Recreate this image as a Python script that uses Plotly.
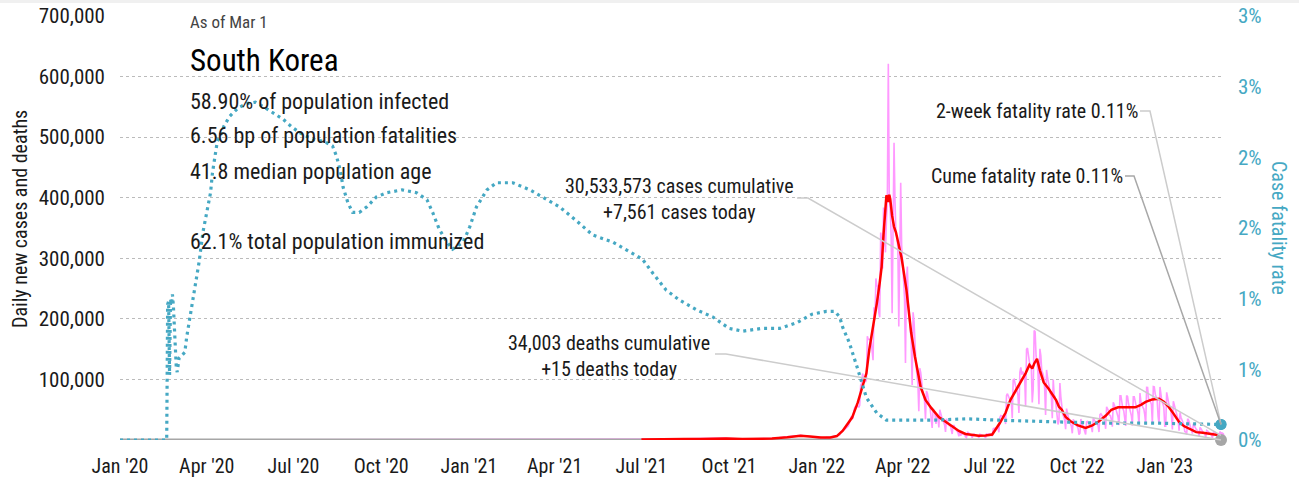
import pandas as pd
import plotly.graph_objects as go

# ---------------- data ----------------
tick_dates = ["2020-01-01", "2020-04-01", "2020-07-01", "2020-10-01",
              "2021-01-01", "2021-04-01", "2021-07-01", "2021-10-01",
              "2022-01-01", "2022-04-01", "2022-07-01", "2022-10-01",
              "2023-01-01"]
tick_text = ["Jan '20", "Apr '20", "Jul '20", "Oct '20",
             "Jan '21", "Apr '21", "Jul '21", "Oct '21",
             "Jan '22", "Apr '22", "Jul '22", "Oct '22",
             "Jan '23"]
y_tickvals = [0, 100000, 200000, 300000, 400000, 500000, 600000, 700000]
y_ticktext = ["", "100,000", "200,000", "300,000", "400,000", "500,000", "600,000", "700,000"]
y2_tickvals = [0, 0.005, 0.01, 0.015, 0.02, 0.025, 0.03]
y2_ticktext = ["0%", "1%", "1%", "2%", "2%", "3%", "3%"]

# cumulative case fatality rate (percent)
cfr_dates = ["2020-01-01", "2020-02-19", "2020-02-20", "2020-02-21", "2020-02-22", "2020-02-23",
             "2020-02-24", "2020-02-25", "2020-02-26", "2020-02-27", "2020-02-28", "2020-02-29",
             "2020-03-01", "2020-03-03", "2020-03-06", "2020-03-09", "2020-03-11", "2020-03-14",
             "2020-03-17", "2020-03-21", "2020-03-24", "2020-03-28", "2020-04-01", "2020-04-05",
             "2020-04-07", "2020-04-10", "2020-04-12", "2020-04-17", "2020-04-19", "2020-04-25",
             "2020-05-04", "2020-05-13", "2020-05-22", "2020-05-30", "2020-06-09", "2020-06-20",
             "2020-06-30", "2020-07-11", "2020-07-21", "2020-08-03", "2020-08-11", "2020-08-15",
             "2020-08-19", "2020-08-22", "2020-08-27", "2020-09-01", "2020-09-08", "2020-09-16",
             "2020-09-26", "2020-10-07", "2020-10-23", "2020-11-07", "2020-11-18", "2020-11-24",
             "2020-12-01", "2020-12-09", "2020-12-15", "2020-12-26", "2021-01-02", "2021-01-09",
             "2021-01-20", "2021-01-30", "2021-02-16", "2021-03-06", "2021-03-19", "2021-04-06",
             "2021-04-24", "2021-05-11", "2021-06-01", "2021-06-19", "2021-07-02", "2021-07-13",
             "2021-07-27", "2021-08-10", "2021-08-28", "2021-09-14", "2021-10-01", "2021-10-15",
             "2021-11-05", "2021-11-23", "2021-12-11", "2021-12-27", "2022-01-11", "2022-01-20",
             "2022-01-25", "2022-01-28", "2022-02-04", "2022-02-13", "2022-02-22", "2022-03-05",
             "2022-03-15", "2022-05-02", "2022-06-07", "2022-07-11", "2022-09-02", "2022-10-24",
             "2022-12-16", "2023-03-01"]
cfr_pct = [0, 0, 0.96, 0.98, 0.46, 1.00,
           0.96, 1.03, 0.95, 0.80, 0.62, 0.52,
           0.48, 0.58, 0.60, 0.62, 0.73, 0.85,
           0.97, 1.11, 1.26, 1.47, 1.61, 1.75,
           1.89, 2.01, 2.11, 2.18, 2.22, 2.29,
           2.35, 2.38, 2.39, 2.36, 2.32, 2.27,
           2.21, 2.16, 2.13, 2.11, 2.08, 2.01,
           1.91, 1.79, 1.68, 1.61, 1.61, 1.65,
           1.72, 1.75, 1.77, 1.75, 1.70, 1.61,
           1.49, 1.40, 1.35, 1.40, 1.51, 1.65,
           1.77, 1.82, 1.82, 1.77, 1.72, 1.65,
           1.55, 1.45, 1.40, 1.33, 1.28, 1.18,
           1.06, 0.99, 0.92, 0.87, 0.79, 0.77,
           0.79, 0.79, 0.83, 0.89, 0.91, 0.91,
           0.87, 0.80, 0.69, 0.50, 0.30, 0.19,
           0.14, 0.14, 0.15, 0.14, 0.13, 0.12,
           0.12, 0.11]

# 7-day average of new cases (thousands) -- drawn from Jul 2021, as in the picture
avg_dates = ["2021-07-01", "2021-07-15", "2021-08-15", "2021-09-01", "2021-09-28",
             "2021-10-15", "2021-11-01", "2021-11-15", "2021-12-01", "2021-12-15", "2021-12-25",
             "2022-01-05", "2022-01-15", "2022-01-22", "2022-01-28", "2022-02-07", "2022-02-13",
             "2022-02-18", "2022-02-22", "2022-02-25", "2022-03-01", "2022-03-05", "2022-03-08",
             "2022-03-10", "2022-03-12", "2022-03-14", "2022-03-15", "2022-03-16", "2022-03-17",
             "2022-03-18", "2022-03-19", "2022-03-21", "2022-03-23", "2022-03-25", "2022-03-28",
             "2022-03-31", "2022-04-05", "2022-04-10", "2022-04-14", "2022-04-17", "2022-04-20",
             "2022-04-25", "2022-05-01", "2022-05-09", "2022-05-16", "2022-05-23", "2022-05-30",
             "2022-06-06", "2022-06-13", "2022-06-20", "2022-06-27", "2022-07-04", "2022-07-12",
             "2022-07-18", "2022-07-23", "2022-08-02", "2022-08-08", "2022-08-12", "2022-08-15",
             "2022-08-17", "2022-08-20", "2022-08-23", "2022-08-27", "2022-09-01", "2022-09-05",
             "2022-09-09", "2022-09-12", "2022-09-15", "2022-09-19", "2022-09-25", "2022-10-02",
             "2022-10-10", "2022-10-17", "2022-10-24", "2022-10-31", "2022-11-06", "2022-11-13",
             "2022-11-20", "2022-11-25", "2022-12-01", "2022-12-07", "2022-12-12", "2022-12-19",
             "2022-12-26", "2022-12-31", "2023-01-05", "2023-01-10", "2023-01-16", "2023-01-21",
             "2023-01-28", "2023-02-03", "2023-02-10", "2023-02-17", "2023-02-24", "2023-03-01"]
avg_k = [0.7, 1.4, 1.75, 1.7, 2.6,
         1.6, 2.0, 2.5, 4.5, 7.0, 5.8,
         4.0, 4.1, 6.5, 15, 37, 62,
         87, 110, 149, 185, 226, 260,
         286, 340, 385, 404, 400, 393,
         405, 398, 370, 352, 343, 320,
         300, 248, 177, 137, 110, 87,
         66, 53, 38, 30, 22, 15,
         10, 8, 7, 7.5, 9, 28,
         45, 66, 94, 110, 124, 118,
         126, 134, 115, 95, 85, 75,
         66, 55, 50, 38, 30, 24,
         20, 24, 31, 40, 50, 54,
         54, 53, 54, 58, 63, 67,
         68, 63, 55, 44, 30, 23,
         18, 13, 12, 10, 8, 7.6]

# daily new cases (thousands)
daily_pre_dates = ["2020-01-01", "2020-02-18", "2020-02-29", "2020-03-03", "2020-03-15", "2020-04-15",
                   "2020-06-15", "2020-08-27", "2020-09-15", "2020-11-15", "2020-12-25", "2021-01-15",
                   "2021-03-15", "2021-05-15", "2021-07-15", "2021-08-15", "2021-09-25", "2021-10-15",
                   "2021-11-15", "2021-12-15", "2021-12-31"]
daily_pre_k = [0, 0.05, 0.9, 0.6, 0.1, 0.03,
               0.04, 0.44, 0.1, 0.2, 1.24, 0.5,
               0.4, 0.6, 1.6, 1.8, 3.3, 1.6,
               2.5, 7.8, 5.0]
daily_2022_01 = [4.4, 3.8, 3.1, 4.0, 4.4, 4.1, 3.7, 3.5, 3.3, 3.0, 4.4, 4.2, 4.2, 4.5, 4.4, 4.2,
                 3.9, 5.8, 5.8, 6.6, 6.8, 7.0, 7.6, 7.5, 8.6, 13.0, 14.5, 16.1, 17.5, 17.0, 18.3]
daily_2022_02 = [20.3, 20.3, 22.9, 27.4, 36.3, 38.7, 35.3, 36.7, 49.6, 54.1, 53.9, 54.9, 56.4, 53.9,
                 57.2, 90.4, 93.1, 109.8, 102.2, 104.8, 95.4, 99.6, 171.4, 165.9, 166.2, 166.2,
                 163.5, 139.6]
daily_2022_03 = [131.7, 219.2, 198.8, 266.8, 254.3, 254.3, 210.7, 202.7, 342.4, 327.5, 282.9, 383.7,
                 350.2, 309.8, 362.3, 400.7, 621.3, 407.0, 381.5, 334.7, 209.2, 354.0, 490.9, 395.6,
                 339.5, 335.6, 318.1, 187.2, 347.5, 424.6, 321.0]
daily_2022_04 = [280.3, 264.2, 234.3, 127.2, 266.1, 286.3, 224.8, 205.3, 185.6, 164.5, 90.9, 210.7,
                 195.4, 148.4, 125.8, 107.9, 93.0, 47.7, 118.5, 111.3, 90.8, 81.0, 75.4, 64.6,
                 34.4, 81.0, 76.8, 63.6, 57.5, 50.5]
daily_2022_05 = [37.7, 20.0, 51.1, 49.0, 42.3, 26.7, 40.0, 37.9, 20.6, 49.9, 43.9, 35.9, 32.4, 29.6,
                 25.4, 13.3, 35.1, 29.6, 26.7, 23.9, 25.1, 19.3, 9.9, 23.9, 23.9, 19.2, 16.6, 14.4,
                 12.5, 6.1, 13.3]
daily_2022_06 = [7.1, 12.5, 9.9, 9.8, 9.0, 5.0, 4.0, 13.4, 12.0, 9.3, 8.4, 7.4, 3.8, 9.4, 9.8, 8.4,
                 7.2, 6.9, 6.0, 3.5, 9.3, 9.3, 8.1, 7.5, 6.7, 6.2, 3.4, 9.9, 9.6, 9.6]
daily_2022_07 = [10.7, 10.7, 10.0, 6.2, 18.1, 19.4, 18.5, 19.3, 20.4, 20.4, 12.7, 37.3, 40.3, 38.9,
                 38.9, 40.3, 40.3, 26.3, 73.6, 76.4, 71.2, 68.6, 68.5, 65.4, 35.9, 99.3, 100.3, 88.4,
                 85.3, 82.0, 73.6]
daily_2022_08 = [44.7, 111.8, 119.9, 107.9, 112.9, 107.9, 105.5, 55.3, 149.9, 151.8, 137.2, 128.7,
                 124.6, 119.6, 62.1, 84.1, 180.8, 178.5, 138.8, 128.7, 110.0, 59.0, 150.5, 139.3,
                 113.4, 110.7, 103.9, 85.3, 41.4, 115.6, 103.9]
daily_2022_09 = [94.9, 81.6, 76.4, 72.6, 35.9, 99.8, 74.1, 71.4, 56.0, 35.0, 25.7, 31.0, 93.9, 71.4,
                 55.1, 41.9, 38.3, 33.0, 17.7, 51.9, 43.5, 34.6, 30.3, 26.9, 23.0, 11.1, 34.1, 30.7,
                 28.5, 25.7]
daily_2022_10 = [22.7, 19.4, 8.9, 11.1, 34.7, 29.8, 24.6, 22.4, 15.5, 9.0, 30.1, 30.6, 28.1, 25.4,
                 24.0, 21.3, 12.9, 35.9, 33.2, 30.1, 28.0, 27.9, 24.0, 13.1, 41.9, 43.4, 40.9, 38.6,
                 35.9, 30.8, 18.5]
daily_2022_11 = [54.7, 51.9, 48.3, 41.1, 40.3, 33.2, 22.0, 62.2, 59.4, 54.2, 49.4, 45.1, 38.0, 24.7,
                 72.9, 72.9, 59.1, 51.8, 48.0, 39.0, 23.1, 73.3, 71.5, 59.8, 53.0, 50.6, 40.0, 23.8,
                 71.5, 71.5]
daily_2022_12 = [60.0, 56.1, 51.6, 43.2, 25.7, 77.6, 62.7, 59.7, 53.7, 51.5, 42.0, 25.6, 86.9, 86.7,
                 68.9, 64.2, 63.2, 58.9, 26.6, 88.2, 87.6, 75.7, 68.2, 66.0, 38.9, 26.5, 87.6, 71.3,
                 63.4, 60.1, 54.6]
daily_2023_01 = [22.7, 22.8, 78.6, 65.2, 61.9, 54.5, 52.6, 40.3, 17.5, 63.9, 57.6, 50.6, 45.0, 42.3,
                 33.7, 15.3, 45.2, 37.6, 33.7, 30.7, 25.2, 14.1, 13.1, 9.2, 35.1, 33.0, 28.2, 22.9,
                 18.9, 10.5, 26.8]
daily_2023_02 = [23.2, 20.2, 17.6, 16.0, 13.0, 6.5, 20.8, 18.7, 15.3, 12.9, 12.1, 10.1, 4.5, 15.7,
                 14.5, 13.1, 11.1, 10.6, 8.3, 3.6, 12.9, 13.6, 12.1, 10.5, 10.2, 7.9, 3.8, 14.2]
daily_2023_03 = [7.561]

# daily deaths
deaths_dates = ["2020-01-01", "2020-02-15", "2020-03-15", "2020-04-15", "2020-05-15", "2020-08-15",
                "2020-09-15", "2020-12-15", "2021-01-15", "2021-03-15", "2021-07-15", "2021-10-15",
                "2021-11-15", "2021-12-15", "2022-01-15", "2022-02-15", "2022-03-20", "2022-04-10",
                "2022-05-15", "2022-06-15", "2022-07-15", "2022-08-25", "2022-09-15", "2022-10-15",
                "2022-11-15", "2022-12-20", "2023-01-15", "2023-02-15", "2023-03-01"]
deaths_vals = [0, 0, 6, 4, 1, 1,
               4, 12, 20, 5, 2, 9,
               30, 60, 30, 40, 290, 230,
               50, 12, 15, 60, 60, 20,
               40, 50, 40, 15, 15]

last_date = "2023-03-01"
cases_today = 7561
deaths_today = 15
cfr_two_week = 0.11
cfr_cume = 0.11

# ---------------- build ----------------
daily_months = [("2022-01-01", daily_2022_01), ("2022-02-01", daily_2022_02),
                ("2022-03-01", daily_2022_03), ("2022-04-01", daily_2022_04),
                ("2022-05-01", daily_2022_05), ("2022-06-01", daily_2022_06),
                ("2022-07-01", daily_2022_07), ("2022-08-01", daily_2022_08),
                ("2022-09-01", daily_2022_09), ("2022-10-01", daily_2022_10),
                ("2022-11-01", daily_2022_11), ("2022-12-01", daily_2022_12),
                ("2023-01-01", daily_2023_01), ("2023-02-01", daily_2023_02),
                ("2023-03-01", daily_2023_03)]
daily_x = list(pd.to_datetime(daily_pre_dates))
daily_y = [v * 1000 for v in daily_pre_k]
for start, vals in daily_months:
    daily_x += list(pd.date_range(start, periods=len(vals), freq="D"))
    daily_y += [v * 1000 for v in vals]

TEAL = "#45A8C3"
PINK = "#FF99FF"
RED = "#FF0000"
GRAY = "#A6A6A6"
TXT = "#1a1a1a"
FONT = "Liberation Sans Narrow, Arial Narrow, Roboto Condensed, sans-serif"

fig = go.Figure()
fig.add_trace(go.Scatter(x=pd.to_datetime(cfr_dates), y=[v / 100 for v in cfr_pct], yaxis="y2",
                         mode="lines", line=dict(color=TEAL, width=3.2, dash="3px,4px"),
                         hoverinfo="skip"))
fig.add_trace(go.Scatter(x=daily_x, y=daily_y, mode="lines",
                         line=dict(color=PINK, width=1.6), hoverinfo="skip"))
fig.add_trace(go.Scatter(x=pd.to_datetime(deaths_dates), y=deaths_vals, mode="lines",
                         line=dict(color=GRAY, width=3), hoverinfo="skip"))
fig.add_trace(go.Scatter(x=pd.to_datetime(avg_dates), y=[v * 1000 for v in avg_k], mode="lines",
                         line=dict(color=RED, width=2.5), hoverinfo="skip"))
fig.add_trace(go.Scatter(x=[last_date], y=[cases_today], mode="markers",
                         marker=dict(color=PINK, size=7), cliponaxis=False, hoverinfo="skip"))
fig.add_trace(go.Scatter(x=[last_date], y=[deaths_today], mode="markers",
                         marker=dict(color=GRAY, size=12), cliponaxis=False, hoverinfo="skip"))
fig.add_trace(go.Scatter(x=[last_date, last_date], y=[cfr_two_week / 100, cfr_cume / 100],
                         yaxis="y2", mode="markers", marker=dict(color=TEAL, size=11),
                         cliponaxis=False, hoverinfo="skip"))

# leader lines: from label (paper coords) to the series end point
Y_MAX = 700000
Y2_MAX = 0.03
def lead(x0, y0, xe, ye, color):
    return dict(type="path", xref="paper", yref="paper",
                path=f"M {x0},{y0} L {xe},{y0} L 1,{ye}",
                line=dict(color=color, width=1.5), layer="above")

shapes = [
    dict(type="rect", xref="paper", yref="paper", x0=-0.12, x1=1.08, y0=1.0307, y1=1.06,
         fillcolor="#F0F0F0", line=dict(width=0), layer="below"),
    lead(0.6149, 0.5708, 0.6249, cases_today / Y_MAX, "#CCCCCC"),
    lead(0.5404, 0.2028, 0.5504, deaths_today / Y_MAX, "#CCCCCC"),
    lead(0.9264, 0.7759, 0.9355, cfr_two_week / 100 / Y2_MAX, "#CCCCCC"),
    lead(0.9128, 0.6226, 0.9210, cfr_cume / 100 / Y2_MAX, "#A8A8A8"),
]

def ann(text, x, y, size, xanchor="left", color=TXT, **kw):
    d = dict(text=text, x=x, y=y, xref="paper", yref="paper", showarrow=False,
             xanchor=xanchor, yanchor="middle", font=dict(size=size, color=color, family=FONT),
             borderpad=0)
    d.update(kw)
    return d

annotations = [
    ann("As of Mar 1", 0.0627, 0.985, 17, color="#444444"),
    ann("South Korea", 0.0627, 0.894, 31, color="#000000"),
    ann("58.90% of population infected", 0.0627, 0.7995, 22),
    ann("6.56 bp of population fatalities", 0.0627, 0.717, 22),
    ann("41.8 median population age", 0.0627, 0.634, 22),
    ann("62.1% total population immunized", 0.0627, 0.469, 22),
    ann(f"{30533573:,} cases cumulative<br>+{cases_today:,} cases today", 0.5086, 0.5684, 20,
        xanchor="center", align="center"),
    ann(f"{34003:,} deaths cumulative<br>+{deaths_today} deaths today", 0.4441, 0.198, 20,
        xanchor="center", align="center"),
    ann(f"2-week fatality rate {cfr_two_week:.2f}%", 0.9255, 0.776, 20, xanchor="right"),
    ann(f"Cume fatality rate {cfr_cume:.2f}%", 0.9118, 0.6226, 20, xanchor="right"),
    ann("Daily new cases and deaths", -0.091, 0.521, 20, xanchor="center", textangle=-90),
    ann("Case fatality rate", 1.0527, 0.5, 20, xanchor="center", textangle=90, color=TEAL),
]

fig.update_layout(
    width=1299, height=480,
    margin=dict(l=120, r=78, t=16, b=40),
    paper_bgcolor="white", plot_bgcolor="white",
    showlegend=False,
    font=dict(family=FONT, color=TXT),
    xaxis=dict(range=["2020-01-01", "2023-03-01"], tickvals=tick_dates, ticktext=tick_text,
               showgrid=False, zeroline=False, showline=False, ticks="", automargin=False,
               tickfont=dict(size=20, color=TXT), ticklabelstandoff=12),
    yaxis=dict(range=[0, Y_MAX], tickvals=y_tickvals, ticktext=y_ticktext, automargin=False,
               showgrid=True, gridcolor="#BBBBBB", griddash="dot", gridwidth=1,
               zeroline=False, showline=False, ticks="",
               tickfont=dict(size=21, color=TXT), ticklabelstandoff=14),
    yaxis2=dict(range=[0, Y2_MAX], tickvals=y2_tickvals, ticktext=y2_ticktext, automargin=False,
                overlaying="y", side="right", showgrid=False, zeroline=False, showline=False,
                ticks="", tickfont=dict(size=21, color=TEAL), ticklabelstandoff=16),
    shapes=shapes,
    annotations=annotations,
)

fig.write_html("out.html", config={"displayModeBar": False},
               post_script="document.body.style.margin='0px';document.body.style.overflow='hidden';")
